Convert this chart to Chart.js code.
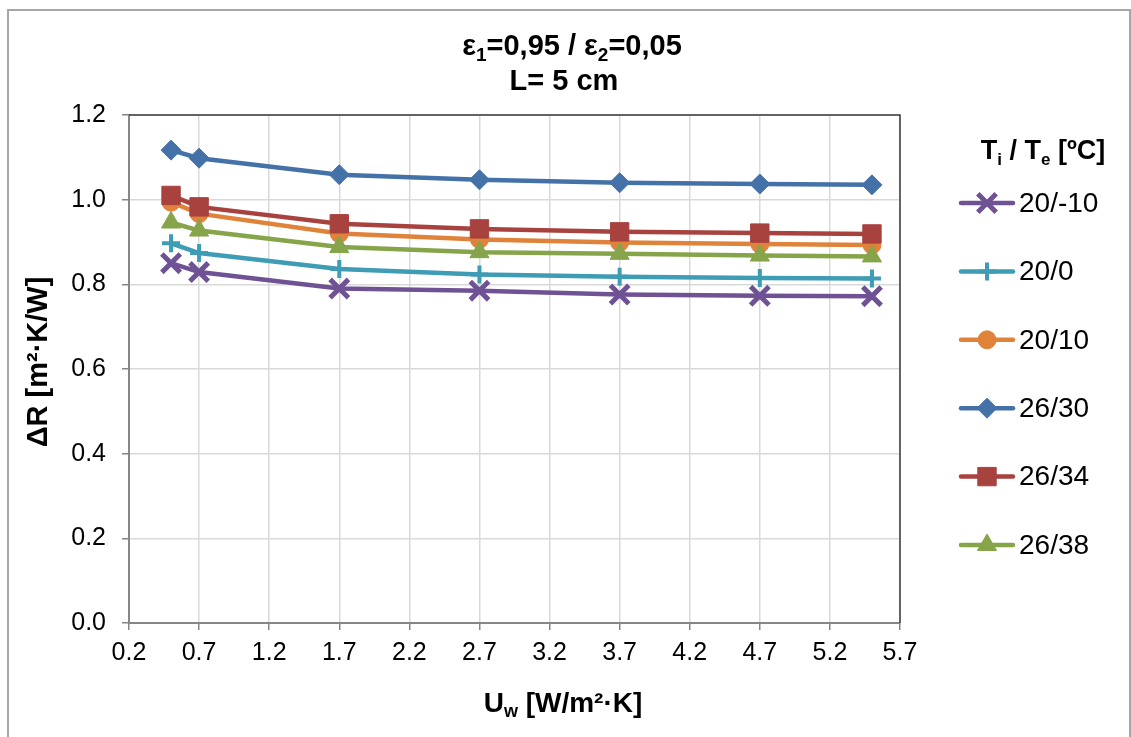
<!DOCTYPE html>
<html>
<head>
<meta charset="utf-8">
<script src="https://cdn.jsdelivr.net/npm/chart.js@4.4.0/dist/chart.umd.min.js"></script>
<style>
html, body { margin: 0; padding: 0; background: #fff; }
canvas { display: block; }
</style>
</head>
<body>
<canvas id="chart" width="1131" height="737"></canvas>
<script>
// data
var uw = [0.5, 0.7, 1.7, 2.7, 3.7, 4.7, 5.5];
var seriesNames = ['20/-10', '20/0', '20/10', '26/30', '26/34', '26/38'];
var dr_20_m10 = [0.850, 0.829, 0.790, 0.785, 0.776, 0.773, 0.772];
var dr_20_0   = [0.897, 0.874, 0.836, 0.823, 0.818, 0.815, 0.814];
var dr_20_10  = [0.994, 0.967, 0.920, 0.906, 0.899, 0.895, 0.893];
var dr_26_30  = [1.117, 1.098, 1.059, 1.047, 1.040, 1.037, 1.035];
var dr_26_34  = [1.010, 0.983, 0.943, 0.931, 0.924, 0.921, 0.919];
var dr_26_38  = [0.946, 0.927, 0.888, 0.876, 0.872, 0.868, 0.866];
var xTicks = [0.2, 0.7, 1.2, 1.7, 2.2, 2.7, 3.2, 3.7, 4.2, 4.7, 5.2, 5.7];
var yTicks = [0, 0.2, 0.4, 0.6, 0.8, 1.0, 1.2];

// styles
var colors = ['#6f5294', '#3f9cb5', '#e0833a', '#4472a8', '#a8423f', '#86a44a'];
var markers = ['crossRot', 'cross', 'circle', 'rectRot', 'rect', 'triangle'];
var markerSize = [13, 9, 9, 10, 13, 11];
var markerWidth = [5, 4, 1, 1, 1, 1];

var FONT = '"Liberation Sans", Arial, sans-serif';

var allSeries = [dr_20_m10, dr_20_0, dr_20_10, dr_26_30, dr_26_34, dr_26_38];

var datasets = allSeries.map(function(vals, i){
	return {
		label: seriesNames[i],
		data: uw.map(function(x, j){ return {x: x, y: vals[j]}; }),
		borderColor: colors[i],
		backgroundColor: colors[i],
		borderWidth: 4.5,
		pointStyle: markers[i],
		pointRadius: markerSize[i],
		pointBorderWidth: markerWidth[i],
		pointBackgroundColor: colors[i],
		pointBorderColor: colors[i],
		tension: 0,
		order: -i   // later series on top, like the original
	};
});

// text with subscript pieces: parts = [[text, isSub], ...]
function richText(ctx, parts, x, y, size, align){
	var base = 'bold ' + size + 'px ' + FONT,
		sub = 'bold ' + Math.round(size * 0.64) + 'px ' + FONT,
		w = 0;
	parts.forEach(function(p){
		ctx.font = p[1] ? sub : base;
		w += ctx.measureText(p[0]).width;
	});
	var sx = align == 'center' ? x - w / 2 : x;
	ctx.textAlign = 'left';
	ctx.textBaseline = 'middle';
	parts.forEach(function(p){
		ctx.font = p[1] ? sub : base;
		ctx.fillText(p[0], sx, p[1] ? y + size * 0.3 : y);
		sx += ctx.measureText(p[0]).width;
	});
}

var decorPlugin = {
	id: 'decor',
	beforeDraw: function(chart){
		var ctx = chart.ctx;
		ctx.save();
		ctx.fillStyle = '#fff';
		ctx.fillRect(0, 0, chart.width, chart.height);
		ctx.strokeStyle = '#a6a6a6';
		ctx.lineWidth = 2;
		ctx.strokeRect(8, 10, 1122, 740);
		ctx.restore();
	},
	afterDatasetsDraw: function(chart){
		var ctx = chart.ctx, a = chart.chartArea;
		ctx.save();
		// top and right edge of plot area
		ctx.strokeStyle = '#3a3a3a';
		ctx.lineWidth = 1.5;
		ctx.beginPath();
		ctx.moveTo(a.left, a.top);
		ctx.lineTo(a.right, a.top);
		ctx.lineTo(a.right, a.bottom);
		ctx.stroke();

		ctx.fillStyle = '#000';
		// chart title
		richText(ctx, [['ε', 0], ['1', 1], ['=0,95 / ε', 0], ['2', 1], ['=0,05', 0]], 572, 47, 29, 'center');
		richText(ctx, [['L= 5 cm', 0]], 564, 82, 29, 'center');
		// axis titles
		richText(ctx, [['U', 0], ['w', 1], [' [W/m²·K]', 0]], 563, 704, 28, 'center');
		ctx.save();
		ctx.translate(39, 362);
		ctx.rotate(-Math.PI / 2);
		richText(ctx, [['ΔR [m²·K/W]', 0]], 0, 0, 29, 'center');
		ctx.restore();

		// legend
		richText(ctx, [['T', 0], ['i', 1], [' / T', 0], ['e', 1], [' [ºC]', 0]], 1043, 152, 27, 'center');
		chart.data.datasets.forEach(function(ds, i){
			var y = 203 + i * 68.4;
			ctx.strokeStyle = ds.borderColor;
			ctx.lineWidth = 4.5;
			ctx.lineCap = 'round';
			ctx.beginPath();
			ctx.moveTo(961, y);
			ctx.lineTo(1013, y);
			ctx.stroke();
			ctx.lineCap = 'butt';
			ctx.fillStyle = ds.backgroundColor;
			ctx.lineWidth = ds.pointBorderWidth;
			Chart.helpers.drawPoint(ctx, {
				pointStyle: ds.pointStyle,
				radius: ds.pointRadius,
				borderWidth: ds.pointBorderWidth,
				rotation: 0
			}, 987, y);
			ctx.fillStyle = '#000';
			ctx.font = '28px ' + FONT;
			ctx.textAlign = 'left';
			ctx.textBaseline = 'middle';
			ctx.fillText(ds.label, 1019, y + 1);
		});
		ctx.restore();
	}
};

new Chart(document.getElementById('chart'), {
	type: 'line',
	data: { datasets: datasets },
	plugins: [decorPlugin],
	options: {
		responsive: false,
		animation: false,
		layout: { padding: { left: 0, top: 115, right: 231, bottom: 0 } },
		plugins: {
			legend: { display: false },
			title: { display: false },
			tooltip: { enabled: false }
		},
		scales: {
			x: {
				type: 'linear',
				min: 0.2,
				max: 5.7,
				afterBuildTicks: function(scale){
					scale.ticks = xTicks.map(function(v){ return {value: v}; });
				},
				afterFit: function(scale){ scale.height = 114; },
				ticks: {
					color: '#000',
					font: { family: FONT, size: 25 },
					padding: 8,
					maxRotation: 0,
					autoSkip: false,
					callback: function(v){ return v.toFixed(1); }
				},
				grid: { color: '#d9d9d9', lineWidth: 1.5, tickColor: '#868686', tickLength: 7, tickWidth: 1.5 },
				border: { color: '#868686', width: 2 }
			},
			y: {
				type: 'linear',
				min: 0,
				max: 1.2,
				afterBuildTicks: function(scale){
					scale.ticks = yTicks.map(function(v){ return {value: v}; });
				},
				afterFit: function(scale){ scale.width = 129; },
				ticks: {
					color: '#000',
					font: { family: FONT, size: 25 },
					padding: 16,
					callback: function(v){ return v.toFixed(1); }
				},
				grid: { color: '#d9d9d9', lineWidth: 1.5, tickColor: '#868686', tickLength: 7, tickWidth: 1.5 },
				border: { color: '#868686', width: 2 }
			}
		}
	}
});
</script>
</body>
</html>
